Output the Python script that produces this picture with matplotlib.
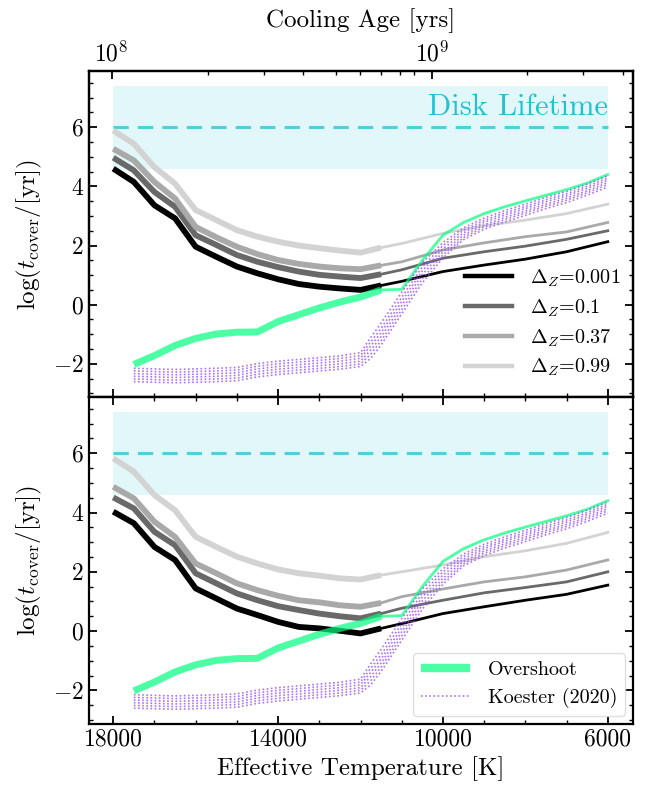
import matplotlib
matplotlib.use("Agg")
import matplotlib.pyplot as plt
from matplotlib.ticker import MultipleLocator, FixedLocator, NullFormatter, FuncFormatter

plt.rcParams['font.family'] = 'serif'
plt.rcParams['font.serif'] = ['cmr10']
plt.rcParams['mathtext.fontset'] = 'cm'
plt.rcParams['axes.formatter.use_mathtext'] = True
plt.rcParams['axes.unicode_minus'] = True

# ---------------- data ----------------
teff_thick = [18000, 17500, 17000, 16500, 16000, 15500, 15000, 14500, 14000, 13500, 13000, 12500, 12000, 11500]
teff_thin = [11500, 11000, 10000, 9000, 8000, 7000, 6000]
dz_labels = [r'$\Delta_Z$=0.001', r'$\Delta_Z$=0.1', r'$\Delta_Z$=0.37', r'$\Delta_Z$=0.99']
dz_colors = ['black', 'dimgray', 'darkgray', 'lightgray']

top_thick = [
    [4.60, 4.15, 3.36, 2.92, 1.96, 1.62, 1.29, 1.06, 0.86, 0.70, 0.61, 0.55, 0.50, 0.65],
    [4.97, 4.54, 3.81, 3.31, 2.35, 2.02, 1.68, 1.45, 1.27, 1.12, 1.01, 0.95, 0.90, 1.03],
    [5.27, 4.88, 4.15, 3.59, 2.63, 2.28, 1.96, 1.71, 1.51, 1.38, 1.29, 1.23, 1.20, 1.33],
    [5.89, 5.44, 4.65, 4.09, 3.20, 2.86, 2.52, 2.30, 2.13, 2.00, 1.91, 1.83, 1.76, 1.93],
]
top_thin = [
    [0.65, 0.79, 1.12, 1.34, 1.54, 1.79, 2.13],
    [1.03, 1.18, 1.57, 1.79, 1.98, 2.21, 2.50],
    [1.33, 1.45, 1.85, 2.09, 2.30, 2.46, 2.78],
    [1.93, 2.07, 2.41, 2.67, 2.86, 3.08, 3.40],
]
bot_thick = [
    [4.03, 3.64, 2.84, 2.40, 1.44, 1.10, 0.76, 0.54, 0.31, 0.14, 0.09, 0.01, -0.08, 0.09],
    [4.51, 4.14, 3.35, 2.90, 1.95, 1.61, 1.27, 1.04, 0.84, 0.71, 0.59, 0.50, 0.43, 0.59],
    [4.87, 4.48, 3.69, 3.18, 2.28, 1.95, 1.61, 1.38, 1.19, 1.04, 0.97, 0.87, 0.82, 0.95],
    [5.83, 5.38, 4.59, 4.08, 3.18, 2.84, 2.51, 2.28, 2.08, 1.95, 1.87, 1.78, 1.74, 1.89],
]
bot_thin = [
    [0.09, 0.25, 0.59, 0.82, 1.04, 1.24, 1.55],
    [0.59, 0.77, 1.04, 1.29, 1.47, 1.66, 2.00],
    [0.95, 1.16, 1.42, 1.66, 1.83, 2.06, 2.40],
    [1.89, 2.00, 2.23, 2.51, 2.71, 2.96, 3.33],
]

# Overshoot (same in both panels)
teff_os_thick = [17500, 17000, 16500, 16000, 15500, 15000, 14500, 14000, 13500, 13000, 12500, 12000, 11500]
os_thick = [-2.02, -1.72, -1.38, -1.14, -0.99, -0.93, -0.92, -0.57, -0.34, -0.11, 0.09, 0.26, 0.50]
teff_os_thin = [11500, 11000, 10500, 10000, 9500, 9000, 8500, 8000, 7500, 7000, 6500, 6000]
os_thin = [0.50, 0.52, 1.50, 2.35, 2.78, 3.08, 3.31, 3.51, 3.70, 3.89, 4.11, 4.40]

# Koester (2020) models
teff_k = [17500, 17000, 16500, 16000, 15500, 15000, 14500, 14000, 13500, 13000, 12500, 12000,
          11750, 11500, 11000, 10500, 10000, 9500, 9000, 8500, 8000, 7500, 7000, 6500, 6000]
koester = [
    [-2.15, -2.17, -2.19, -2.17, -2.15, -2.12, -1.99, -1.91, -1.85, -1.79, -1.73, -1.62, -1.10, -0.62, 0.42, 1.42, 2.10, 2.60, 2.93, 3.18, 3.40, 3.63, 3.83, 4.08, 4.36],
    [-2.24, -2.26, -2.28, -2.26, -2.24, -2.21, -2.08, -2.00, -1.94, -1.88, -1.82, -1.72, -1.25, -0.80, 0.25, 1.28, 2.00, 2.52, 2.85, 3.10, 3.32, 3.55, 3.75, 4.00, 4.28],
    [-2.33, -2.35, -2.37, -2.35, -2.33, -2.30, -2.17, -2.09, -2.03, -1.97, -1.91, -1.81, -1.39, -0.94, 0.11, 1.15, 1.89, 2.43, 2.78, 3.03, 3.25, 3.48, 3.68, 3.93, 4.21],
    [-2.42, -2.44, -2.46, -2.44, -2.42, -2.39, -2.26, -2.18, -2.12, -2.06, -2.00, -1.91, -1.53, -1.08, -0.03, 1.02, 1.78, 2.35, 2.70, 2.95, 3.17, 3.40, 3.60, 3.85, 4.13],
    [-2.51, -2.53, -2.55, -2.53, -2.51, -2.48, -2.35, -2.27, -2.21, -2.15, -2.09, -2.00, -1.67, -1.22, -0.17, 0.88, 1.68, 2.27, 2.63, 2.88, 3.10, 3.33, 3.53, 3.78, 4.06],
    [-2.60, -2.62, -2.64, -2.62, -2.60, -2.57, -2.44, -2.36, -2.30, -2.24, -2.18, -2.09, -1.81, -1.36, -0.31, 0.74, 1.58, 2.20, 2.55, 2.80, 3.02, 3.25, 3.45, 3.70, 3.98],
]

# Disk lifetime band
disk_teff = [18000, 6000]
disk_low, disk_high, disk_mid = 4.6, 7.4, 6.0

# Axis ticks
teff_major = [18000, 14000, 10000, 6000]
age_major = [18040, 10260]
age_major_labels = [r'$10^8$', r'$10^9$']
age_minor = [15690, 14330, 13390, 12590, 12005, 11500, 11030, 10710, 7964, 6592, 5622]

# ---------------- plot ----------------
fig = plt.figure(figsize=(6.47, 7.90), dpi=100)
L, R = 88.5 / 647, 632.5 / 647
T1, M, B2 = 1 - 71 / 790, 1 - 397 / 790, 1 - 723.5 / 790
ax1 = fig.add_axes([L, M, R - L, T1 - M])
ax2 = fig.add_axes([L, B2, R - L, M - B2])

cyan = '#17becf'
purple = '#9a4ff5'
for ax, thick, thin in [(ax1, top_thick, top_thin), (ax2, bot_thick, bot_thin)]:
    ax.fill_between(disk_teff, disk_low, disk_high, color=cyan, alpha=0.12, lw=0, zorder=0)
    ax.plot(disk_teff, [disk_mid, disk_mid], ls=(0, (5, 3)), color=cyan, alpha=0.7, lw=2.2, zorder=1)
    for i in range(4):
        ax.plot(teff_thick, thick[i], color=dz_colors[i], lw=4.2, solid_capstyle='butt', zorder=2)
        ax.plot(teff_thin, thin[i], color=dz_colors[i], lw=2.0, zorder=2, label=dz_labels[i])
    ax.plot(teff_os_thick, os_thick, color='springgreen', alpha=0.7, lw=5.0, zorder=3,
            solid_capstyle='butt', label='Overshoot')
    ax.plot(teff_os_thin, os_thin, color='springgreen', alpha=0.7, lw=2.0, zorder=3)
    for j, k in enumerate(koester):
        ax.plot(teff_k, k, color=purple, alpha=0.8, lw=1.2, ls=(0, (1, 1.5)), zorder=4,
                label='Koester (2020)' if j == 0 else None)

    ax.set_xlim(18600, 5400)
    ax.set_ylim(-3.12, 7.9)
    ax.xaxis.set_major_locator(FixedLocator(teff_major))
    ax.xaxis.set_minor_locator(MultipleLocator(1000))
    ax.yaxis.set_major_locator(MultipleLocator(2))
    ax.yaxis.set_minor_locator(MultipleLocator(0.5))
    ax.tick_params(which='both', direction='in', right=True, labelsize=17)
    ax.tick_params(which='major', length=6, width=1.3)
    ax.tick_params(which='minor', length=3, width=1.0)
    for s in ax.spines.values():
        s.set_linewidth(1.6)
    ax.set_ylabel(r'$\log(t_{\rm cover}/[{\rm yr}])$', fontsize=18, labelpad=6)

ax1.tick_params(which='both', top=False, labelbottom=False)
ax2.tick_params(which='both', top=True)
ax2.set_xlabel('Effective Temperature [K]', fontsize=18, labelpad=4)
ax2.xaxis.set_major_formatter(FuncFormatter(lambda v, p: '%d' % v))

ax1.text(6000, 6.2, 'Disk Lifetime', color=cyan, fontsize=22, ha='right', va='bottom', alpha=0.95)

# top axis: cooling age
axt = ax1.twiny()
axt.set_xlim(ax1.get_xlim())
axt.xaxis.set_major_locator(FixedLocator(age_major))
axt.set_xticklabels(age_major_labels)
axt.xaxis.set_minor_locator(FixedLocator(age_minor))
axt.xaxis.set_minor_formatter(NullFormatter())
axt.tick_params(which='both', direction='in', labelsize=17)
axt.tick_params(which='major', length=6, width=1.3)
axt.tick_params(which='minor', length=3, width=1.0)
axt.set_xlabel('Cooling Age [yrs]', fontsize=18, labelpad=10)
for s in axt.spines.values():
    s.set_linewidth(1.6)

# legends
h, l = ax1.get_legend_handles_labels()
gray_h = [hh for hh, ll in zip(h, l) if ll in dz_labels]
leg1 = ax1.legend(gray_h, dz_labels, loc='lower right', frameon=False, fontsize=14.5,
                  handlelength=2.3, handletextpad=0.9, labelspacing=0.42, borderaxespad=0.2,
                  bbox_to_anchor=(1.0, 0.02))
for lh in leg1.get_lines():
    lh.set_linewidth(3.2)

h2, l2 = ax2.get_legend_handles_labels()
sel = [(hh, ll) for hh, ll in zip(h2, l2) if ll in ('Overshoot', 'Koester (2020)')]
leg2 = ax2.legend([s[0] for s in sel], [s[1] for s in sel], loc='lower right', fontsize=14.5,
                  handlelength=2.4, handletextpad=0.9, labelspacing=0.45, borderaxespad=0.35,
                  fancybox=True, framealpha=0.8, edgecolor='#d8d8d8')
for lh in leg2.get_lines():
    if lh.get_label() == 'Overshoot':
        lh.set_linewidth(6)

fig.savefig('out.png', dpi=100)
